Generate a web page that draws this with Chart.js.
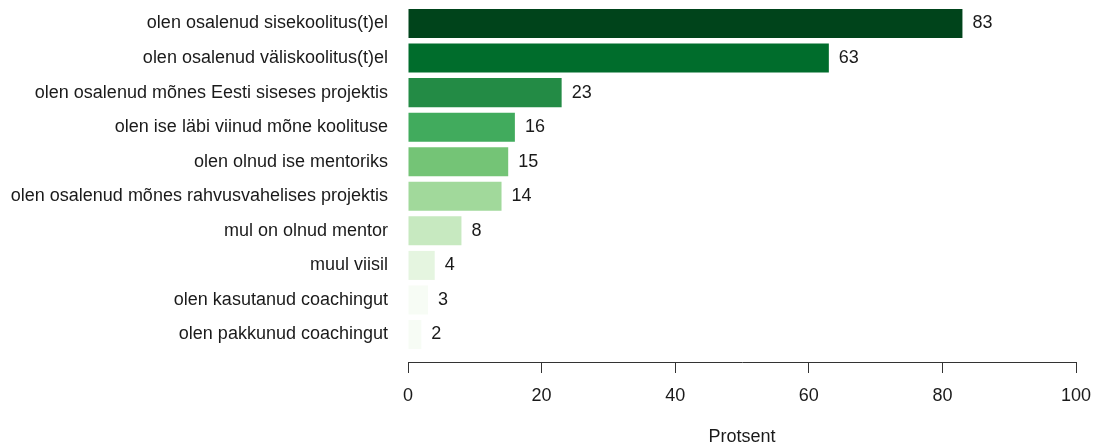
<!DOCTYPE html>
<html>
<head>
<meta charset="utf-8">
<script src="https://cdn.jsdelivr.net/npm/chart.js@4/dist/chart.umd.min.js"></script>
<style>
  html, body { margin: 0; padding: 0; background: #fff; }
  #wrap { width: 1094px; height: 446px; }
</style>
</head>
<body>
<div id="wrap"><canvas id="koolitusChart" width="1094" height="446"></canvas></div>
<script>
/* ---------- andmed ---------- */
const categories = [
  "olen osalenud sisekoolitus(t)el",
  "olen osalenud väliskoolitus(t)el",
  "olen osalenud mõnes Eesti siseses projektis",
  "olen ise läbi viinud mõne koolituse",
  "olen olnud ise mentoriks",
  "olen osalenud mõnes rahvusvahelises projektis",
  "mul on olnud mentor",
  "muul viisil",
  "olen kasutanud coachingut",
  "olen pakkunud coachingut",
];
const values = [83, 63, 23, 16, 15, 14, 8, 4, 3, 2];
const barColors = [
  "#00441B", "#006D2C", "#238B45", "#41AB5D", "#74C476",
  "#A1D99B", "#C7E9C0", "#E5F5E0", "#F7FCF5", "#F7FCF5",
];
const xTicks = [0, 20, 40, 60, 80, 100];

const FONT = "'Liberation Sans', Arial, sans-serif";
const TEXT = "#1a1a1a";
const FONT_SIZE = 18;

/* ---------- väärtused tulpade otsas ---------- */
const valueLabels = {
  id: "valueLabels",
  afterDatasetsDraw(chart) {
    const { ctx } = chart;
    const meta = chart.getDatasetMeta(0);
    ctx.save();
    ctx.font = `${FONT_SIZE}px ${FONT}`;
    ctx.fillStyle = TEXT;
    ctx.textAlign = "left";
    ctx.textBaseline = "middle";
    meta.data.forEach((bar, i) => {
      ctx.fillText(String(values[i]), bar.x + 10, bar.y);
    });
    ctx.restore();
  },
};

new Chart(document.getElementById("koolitusChart").getContext("2d"), {
  type: "bar",
  data: {
    datasets: [
      {
        data: values.map((v, i) => ({ x: v, y: i })),
        backgroundColor: barColors,
        borderWidth: 0,
        barPercentage: 0.84,
        categoryPercentage: 1,
      },
    ],
  },
  options: {
    indexAxis: "y",
    responsive: false,
    animation: false,
    layout: { padding: { top: 0, right: 18, bottom: 0, left: 0 } },
    plugins: { legend: { display: false }, tooltip: { enabled: false } },
    scales: {
      y: {
        type: "linear",
        reverse: true,
        offset: false,
        min: -0.68,
        max: 9.795,
        grid: { display: false },
        border: { display: false },
        afterFit: s => {
          s.width = 408;
          s.paddingTop = 0;
          s.paddingBottom = 0;
        },
        afterBuildTicks: s => {
          s.ticks = categories.map((_, i) => ({ value: i }));
        },
        ticks: {
          autoSkip: false,
          padding: 12,
          color: TEXT,
          font: { family: FONT, size: FONT_SIZE },
          callback: v => categories[v] ?? "",
        },
      },
      x: {
        type: "linear",
        min: 0,
        max: 100,
        grid: { drawOnChartArea: false, drawTicks: true, tickLength: 11, color: "#333" },
        border: { display: true, color: "#333", width: 1 },
        afterFit: s => {
          s.height = 84;
          s.paddingLeft = 0;
          s.paddingRight = 0;
        },
        afterBuildTicks: s => {
          s.ticks = xTicks.map(v => ({ value: v }));
        },
        ticks: {
          padding: 12,
          maxRotation: 0,
          color: TEXT,
          font: { family: FONT, size: FONT_SIZE },
        },
        title: {
          display: true,
          text: "Protsent",
          color: TEXT,
          font: { family: FONT, size: FONT_SIZE, lineHeight: 1 },
          padding: { top: 0, bottom: 0 },
        },
      },
    },
  },
  plugins: [valueLabels],
});
</script>
</body>
</html>
